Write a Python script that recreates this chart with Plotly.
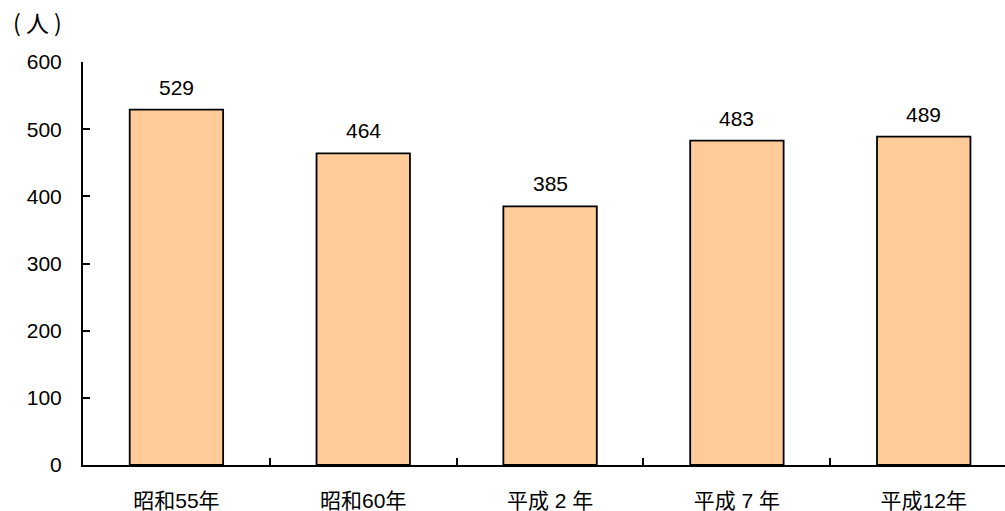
import plotly.graph_objects as go

# Population by survey year
years = ["昭和55年", "昭和60年", "平成 2 年", "平成 7 年", "平成12年"]
people = [529, 464, 385, 483, 489]
y_ticks = [0, 100, 200, 300, 400, 500, 600]

FONT = "Liberation Sans, Arial, Noto Sans CJK JP, sans-serif"
CJK_FONT = "Noto Sans CJK JP, sans-serif"
SIZE = 21

fig = go.Figure(
    go.Bar(
        x=years,
        y=people,
        marker=dict(color="#FFCC99", line=dict(color="#000000", width=1.8)),
        cliponaxis=False,
    )
)

# value labels above each bar
value_labels = [
    dict(
        x=cat, y=val, xref="x", yref="y",
        text=str(val), showarrow=False,
        xanchor="center", yanchor="bottom", yshift=9,
        font=dict(family=FONT, size=SIZE, color="#000000"),
    )
    for cat, val in zip(years, people)
]

unit_label = dict(
    text="( 人 )",
    xref="paper", yref="paper",
    x=0, y=1,
    xanchor="left", yanchor="bottom",
    xshift=-72, yshift=21,
    showarrow=False,
    font=dict(family=CJK_FONT, size=23, color="#000000"),
)

fig.update_layout(
    width=1005,
    height=511,
    margin=dict(l=83, r=0, t=62, b=46),
    plot_bgcolor="white",
    paper_bgcolor="white",
    bargap=0.5,
    showlegend=False,
    font=dict(family=FONT, size=SIZE, color="#000000"),
    annotations=value_labels + [unit_label],
)

fig.update_xaxes(
    type="category",
    range=[-0.5, 4.435],
    tickson="boundaries",
    ticks="inside",
    ticklen=7,
    tickwidth=1.5,
    tickcolor="#000000",
    showline=True,
    linecolor="#000000",
    linewidth=2,
    showgrid=False,
    ticklabelstandoff=16,
    tickfont=dict(family=FONT, size=SIZE),
)

fig.update_yaxes(
    range=[0, 600],
    tickvals=y_ticks,
    ticks="inside",
    ticklen=7,
    tickwidth=1.5,
    tickcolor="#000000",
    showline=True,
    linecolor="#000000",
    linewidth=2,
    showgrid=False,
    zeroline=False,
    ticklabelstandoff=15,
    tickfont=dict(family=FONT, size=SIZE),
)

fig.write_html("out.html")
